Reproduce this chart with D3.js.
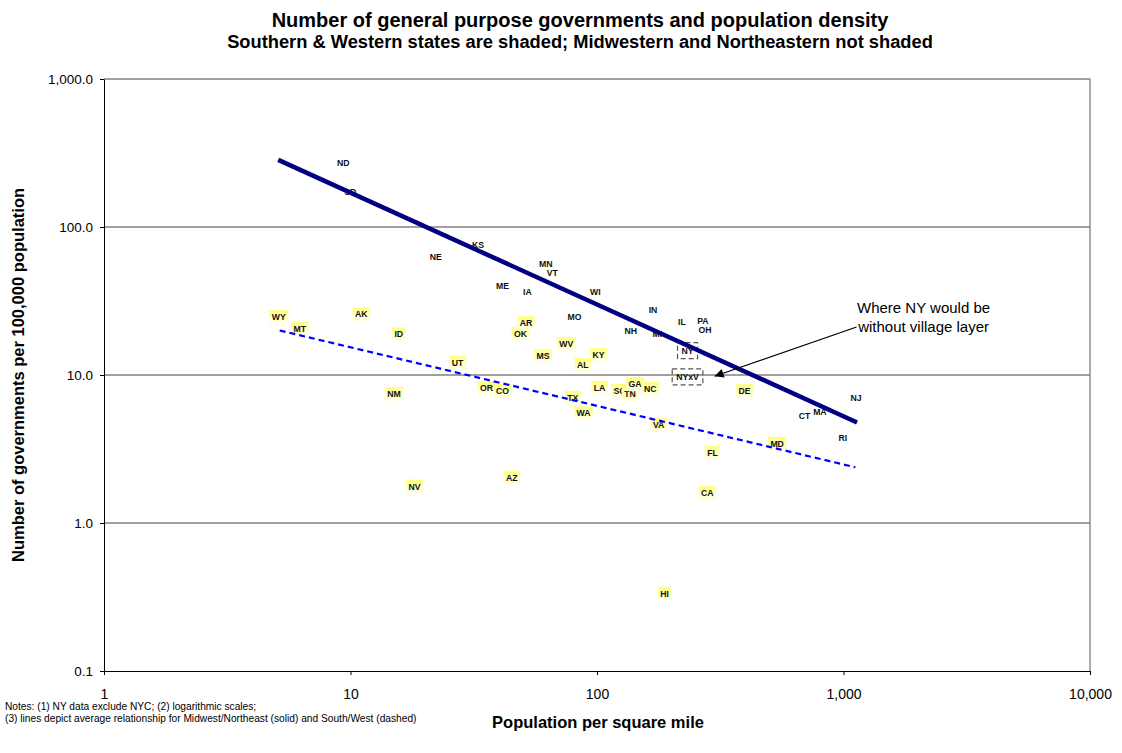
<!DOCTYPE html>
<html>
<head>
<meta charset="utf-8">
<script src="https://cdn.jsdelivr.net/npm/d3@7"></script>
<style>
  body { margin: 0; background: #fff; }
  svg { font-family: "Liberation Sans", Arial, sans-serif; }
</style>
</head>
<body>
<div id="chart"></div>
<script>
// 1: DATA
// Midwest / Northeast (not shaded)
const mwneStates  = ["ND", "SD", "NE", "KS", "MN", "VT", "ME", "IA", "WI", "MO", "IN", "IL", "PA", "OH", "NH", "MI", "CT", "MA", "NJ", "RI"];
const mwneDensity = [9.35, 9.98, 22.2, 32.9, 61.9, 65.9, 41.4, 52.2, 98.4, 81.1, 168.8, 221, 269, 274, 137, 175.7, 695, 802, 1124, 993];
const mwneGovs    = [272, 173, 63.2, 76.2, 55.9, 49.3, 39.7, 36.2, 36.2, 24.5, 27.3, 22.8, 23.2, 20.2, 19.8, 18.8, 5.3, 5.6, 7.0, 3.74];

// New York, with and without villages (dashed boxes)
const nyStates  = ["NY", "NYxV"];
const nyDensity = [233, 233];
const nyGovs    = [14.6, 9.7];

// South / West (shaded)
const swStates  = ["WY", "MT", "AK", "ID", "UT", "NM", "OR", "CO", "NV", "AZ", "OK", "AR", "MS", "WV", "KY", "AL", "LA", "TX", "WA", "SC", "TN", "GA", "NC", "VA", "DE", "MD", "FL", "CA", "HI"];
const swDensity = [5.12, 6.22, 11.05, 15.7, 27.2, 15.0, 35.6, 41.4, 18.2, 45.1, 48.9, 51.5, 60.4, 75.0, 101.4, 87.6, 102.3, 79.8, 88.2, 123.3, 136.2, 142.7, 164.6, 177.8, 397, 538, 294, 280, 188];
const swGovs    = [24.6, 20.4, 25.7, 18.8, 12.1, 7.45, 8.14, 7.8, 1.76, 2.03, 18.9, 22.4, 13.4, 16.2, 13.65, 11.7, 8.18, 7.0, 5.5, 7.8, 7.42, 8.66, 8.05, 4.58, 7.77, 3.43, 2.98, 1.59, 0.332];

// average relationships (end points of the fitted lines)
const solidDensity  = [5.09, 1135];
const solidGovs     = [284, 4.78];
const dashedDensity = [5.16, 1117];
const dashedGovs    = [20.0, 2.38];

// arrow for the annotation: from text to "NYxV"
const arrowDensity = [1130, 300];
const arrowGovs    = [21.1, 9.8];

const xTicks = [1, 10, 100, 1000, 10000];
const yTicks = [0.1, 1, 10, 100, 1000];

// 2: SVG + SCALES
const W = 1122, H = 753;
const svg = d3.select("#chart").append("svg")
    .attr("width", W)
    .attr("height", H);

svg.append("rect").attr("width", W).attr("height", H).attr("fill", "#fff");

const plot = { left: 104, right: 1090, top: 79, bottom: 671 };

const x = d3.scaleLog().domain([1, 10000]).range([plot.left, plot.right]);
const y = d3.scaleLog().domain([0.1, 1000]).range([plot.bottom, plot.top]);

const fmtX = d3.format(",");
const fmtY = d3.format(",.1f");

// gradient for shaded labels
const defs = svg.append("defs");
const grad = defs.append("linearGradient")
    .attr("id", "shade")
    .attr("x1", 0).attr("y1", 0).attr("x2", 0).attr("y2", 1);
grad.append("stop").attr("offset", "0%").attr("stop-color", "#ffff80");
grad.append("stop").attr("offset", "100%").attr("stop-color", "#ffffee");

defs.append("marker")
    .attr("id", "arrowhead")
    .attr("viewBox", "0 0 10 10")
    .attr("refX", 10).attr("refY", 5)
    .attr("markerWidth", 13).attr("markerHeight", 9)
    .attr("markerUnits", "userSpaceOnUse")
    .attr("orient", "auto")
    .append("path")
    .attr("d", "M0,0L10,5L0,10Z")
    .attr("fill", "#000");

// 3: GRID + AXES
svg.append("g")
    .selectAll("line")
    .data(yTicks.filter(d => d > 0.1))
    .enter().append("line")
    .attr("x1", plot.left).attr("x2", plot.right)
    .attr("y1", d => y(d)).attr("y2", d => y(d))
    .attr("stroke", "#808080")
    .attr("stroke-width", 1.3);

// right border
svg.append("line")
    .attr("x1", plot.right).attr("x2", plot.right)
    .attr("y1", plot.top).attr("y2", plot.bottom)
    .attr("stroke", "#808080").attr("stroke-width", 1.3);

const xAxis = svg.append("g")
    .attr("transform", `translate(0,${plot.bottom})`)
    .call(d3.axisBottom(x).tickValues(xTicks).tickFormat(fmtX).tickSize(4).tickSizeOuter(0));
xAxis.select(".domain").attr("stroke", "#000");
xAxis.selectAll("text")
    .attr("font-size", 14)
    .attr("font-family", "Liberation Sans, Arial")
    .attr("y", 28).attr("dy", 0)
    .attr("fill", "#000");

const yAxis = svg.append("g")
    .attr("transform", `translate(${plot.left},0)`)
    .call(d3.axisLeft(y).tickValues(yTicks).tickFormat(fmtY).tickSize(4).tickSizeOuter(0));
yAxis.select(".domain").attr("stroke", "#000");
yAxis.selectAll("text")
    .attr("font-size", 13.5)
    .attr("font-family", "Liberation Sans, Arial")
    .attr("x", -11)
    .attr("fill", "#000");

// 4: LABELS FOR STATES
function drawLabels(names, dens, govs, shaded) {
    names.forEach((name, i) => {
        const g = svg.append("g")
            .attr("transform", `translate(${x(dens[i])},${y(govs[i])})`);
        const bg = g.append("rect");
        const t = g.append("text")
            .attr("text-anchor", "middle")
            .attr("dy", "0.35em")
            .attr("font-size", 8.7)
            .attr("font-weight", "bold")
            .attr("fill", "#111")
            .text(name);
        const w = t.node().getComputedTextLength();
        if (shaded) {
            bg.attr("x", -w / 2 - 2.5).attr("y", -7)
              .attr("width", w + 5).attr("height", 14)
              .attr("fill", "url(#shade)");
        } else {
            bg.remove();
        }
    });
}

drawLabels(mwneStates, mwneDensity, mwneGovs, false);
drawLabels(swStates, swDensity, swGovs, true);

// NY labels with dashed boxes
nyStates.forEach((name, i) => {
    const g = svg.append("g")
        .attr("transform", `translate(${x(nyDensity[i])},${y(nyGovs[i])})`);
    const t = g.append("text")
        .attr("text-anchor", "middle")
        .attr("dy", "0.35em")
        .attr("font-size", 8.7)
        .attr("font-weight", "bold")
        .attr("fill", "#111")
        .text(name);
    const w = t.node().getComputedTextLength();
    g.append("rect")
        .attr("x", -w / 2 - 4).attr("y", -8)
        .attr("width", w + 8).attr("height", 16)
        .attr("fill", "none")
        .attr("stroke", "#555")
        .attr("stroke-width", 1.2)
        .attr("stroke-dasharray", "5,3");
});

// 5: TREND LINES
const line = d3.line().x(d => x(d[0])).y(d => y(d[1]));

svg.append("path")
    .datum(solidDensity.map((d, i) => [d, solidGovs[i]]))
    .attr("d", line)
    .attr("fill", "none")
    .attr("stroke", "#000080")
    .attr("stroke-width", 4.5);

svg.append("path")
    .datum(dashedDensity.map((d, i) => [d, dashedGovs[i]]))
    .attr("d", line)
    .attr("fill", "none")
    .attr("stroke", "#0000ff")
    .attr("stroke-width", 2.2)
    .attr("stroke-dasharray", "6,4");

// 6: ANNOTATION
svg.append("path")
    .datum(arrowDensity.map((d, i) => [d, arrowGovs[i]]))
    .attr("d", line)
    .attr("fill", "none")
    .attr("stroke", "#000")
    .attr("stroke-width", 1.2)
    .attr("marker-end", "url(#arrowhead)");

const ax = x(arrowDensity[0]), ay = y(arrowGovs[0]);
svg.append("text")
    .attr("x", ax + 67).attr("y", ay - 14)
    .attr("text-anchor", "middle")
    .attr("font-size", 15)
    .text("Where NY would be");
svg.append("text")
    .attr("x", ax + 67).attr("y", ay + 5)
    .attr("text-anchor", "middle")
    .attr("font-size", 15)
    .text("without village layer");

// 7: TITLES + NOTES
svg.append("text")
    .attr("x", 580).attr("y", 27)
    .attr("text-anchor", "middle")
    .attr("font-size", 20)
    .attr("font-weight", "bold")
    .text("Number of general purpose governments and population density");
svg.append("text")
    .attr("x", 580).attr("y", 48)
    .attr("text-anchor", "middle")
    .attr("font-size", 18.3)
    .attr("font-weight", "bold")
    .text("Southern & Western states are shaded; Midwestern and Northeastern not shaded");

svg.append("text")
    .attr("x", 598).attr("y", 728)
    .attr("text-anchor", "middle")
    .attr("font-size", 16.5)
    .attr("font-weight", "bold")
    .text("Population per square mile");

svg.append("text")
    .attr("transform", `translate(24,${(plot.top + plot.bottom) / 2}) rotate(-90)`)
    .attr("text-anchor", "middle")
    .attr("font-size", 16.5)
    .attr("font-weight", "bold")
    .text("Number of governments per 100,000 population");

svg.append("text")
    .attr("x", 5).attr("y", 710)
    .attr("font-size", 10.2)
    .text("Notes: (1) NY data exclude NYC; (2) logarithmic scales;");
svg.append("text")
    .attr("x", 5).attr("y", 722)
    .attr("font-size", 10.2)
    .text("(3) lines depict average relationship for Midwest/Northeast (solid) and South/West (dashed)");
</script>
</body>
</html>
